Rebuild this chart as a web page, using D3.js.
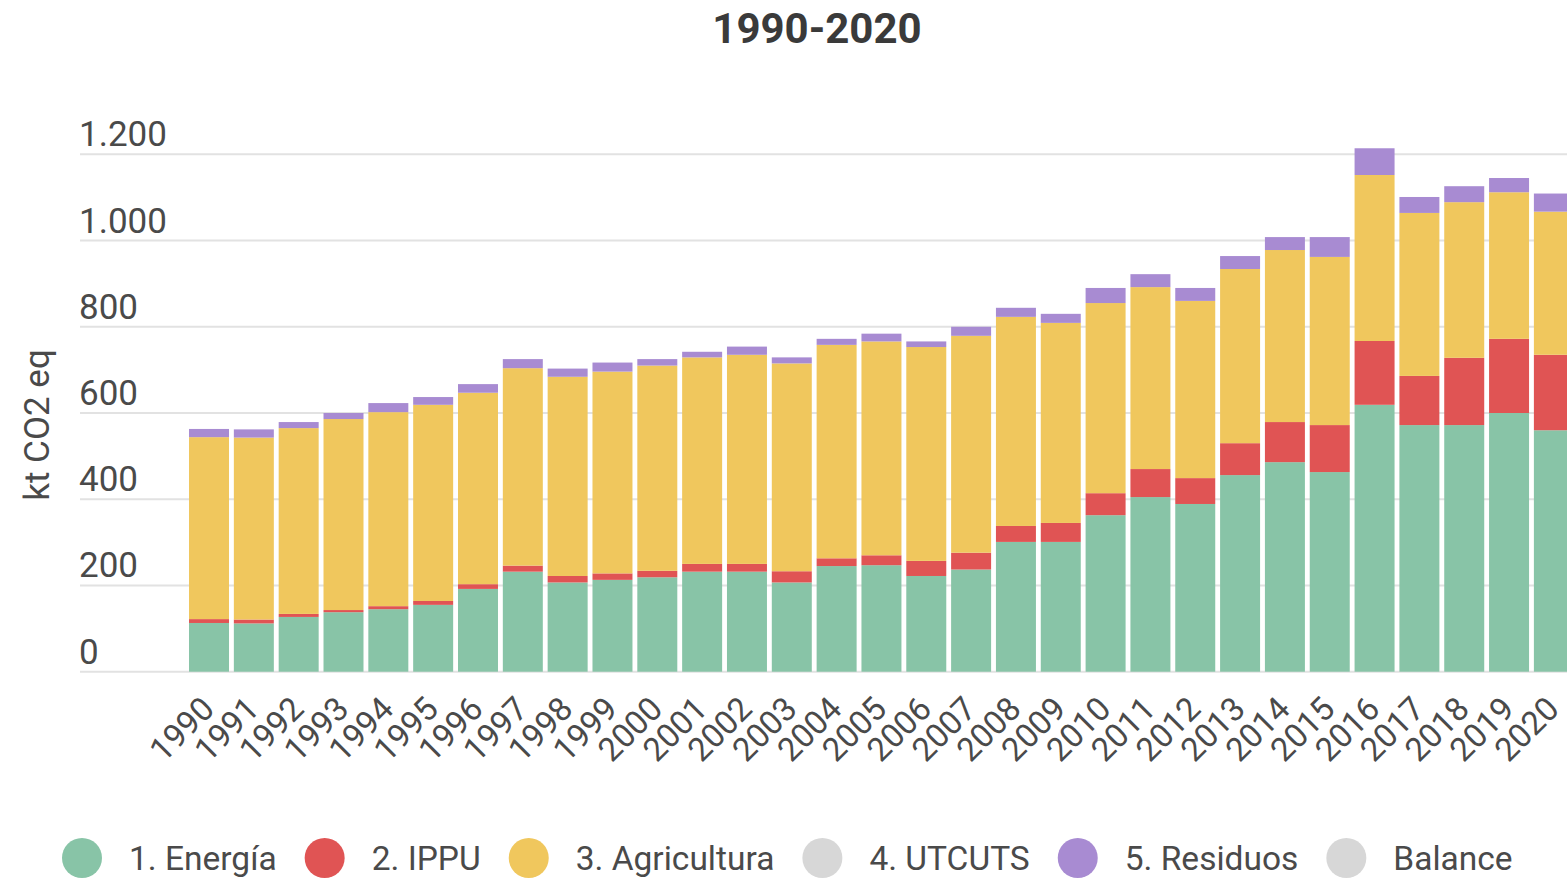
<!DOCTYPE html>
<html>
<head>
<meta charset="utf-8">
<script src="https://cdn.jsdelivr.net/npm/d3@7"></script>
<style>
  html, body { margin: 0; padding: 0; background: #ffffff; }
  svg { display: block; font-family: Roboto, "Noto Sans", sans-serif; }
</style>
</head>
<body>
<svg id="chart" width="1567" height="880"></svg>
<script>
const years = ["1990","1991","1992","1993","1994","1995","1996","1997","1998","1999","2000",
  "2001","2002","2003","2004","2005","2006","2007","2008","2009","2010",
  "2011","2012","2013","2014","2015","2016","2017","2018","2019","2020"];

const energia     = [113,112,127,138,145,155,192,232,207,213,219,232,232,207,245,247,222,237,301,301,363,405,389,456,486,463,619,572,572,600,560];
const ippu        = [9,9,7,5,7,9,11,14,15,15,15,18,18,26,18,23,35,39,37,44,51,65,60,74,93,109,148,114,156,172,175];
const agricultura = [422,422,431,443,450,455,444,458,462,468,476,479,485,482,495,496,496,503,485,464,441,422,411,404,399,390,385,378,361,340,332];
const residuos    = [19,19,14,14,21,18,20,21,19,21,15,13,19,14,14,18,13,21,21,21,35,30,30,30,30,46,62,37,37,33,42];

const yTicks = [0, 200, 400, 600, 800, 1000, 1200];
const title = "1990-2020";
const yTitle = "kt CO2 eq";

const seriesNames  = ["1. Energía", "2. IPPU", "3. Agricultura", "4. UTCUTS", "5. Residuos", "Balance"];
const seriesColors = ["#88c4a7", "#e05454", "#f0c75d", "#d7d7d7", "#a88bd2", "#d7d7d7"];

const svg = d3.select("#chart");

const table = years.map((yr, i) => ({
  year: yr,
  e: energia[i], i: ippu[i], a: agricultura[i], r: residuos[i]
}));
const keys = ["e", "i", "a", "r"];
const keyColor = { e: seriesColors[0], i: seriesColors[1], a: seriesColors[2], r: seriesColors[4] };

const x = d3.scaleBand().domain(years).range([186.6, 1576.3]).paddingInner(0.108).paddingOuter(0.054);
const y = d3.scaleLinear().domain([0, 1200]).range([671.7, 154.3]);

// title
svg.append("text").attr("x", 817).attr("y", 43).attr("text-anchor", "middle")
  .attr("font-size", 42).attr("font-weight", "bold").attr("fill", "#3a3a3a").text(title);

// gridlines & y labels
const yAxis = svg.append("g");
yAxis.selectAll("line").data(yTicks).join("line")
  .attr("x1", 80).attr("x2", 1567)
  .attr("y1", d => y(d)).attr("y2", d => y(d))
  .attr("stroke", "#e2e2e2").attr("stroke-width", 2);
const fmt = d => d3.format(",")(d).replace(/,/g, ".");
yAxis.selectAll("text").data(yTicks).join("text")
  .attr("x", 79).attr("y", d => y(d) - 8)
  .attr("font-size", 35).attr("fill", "#4a4a4a").text(fmt);

// y title
svg.append("text").attr("transform", "translate(49,425) rotate(-90)")
  .attr("text-anchor", "middle").attr("font-size", 35).attr("fill", "#4a4a4a").text(yTitle);

// stacked bars
const stack = d3.stack().keys(keys)(table);
svg.append("g").selectAll("g").data(stack).join("g")
  .attr("fill", d => keyColor[d.key])
  .selectAll("rect").data(d => d).join("rect")
  .attr("x", d => x(d.data.year))
  .attr("width", x.bandwidth())
  .attr("y", d => y(d[1]))
  .attr("height", d => y(d[0]) - y(d[1]));

// x labels
svg.append("g").selectAll("text").data(years).join("text")
  .attr("transform", d => `translate(${x(d) + x.bandwidth() / 2 + 7},711) rotate(-45)`)
  .attr("text-anchor", "end").attr("font-size", 33).attr("fill", "#4a4a4a").text(d => d);

// legend
const legend = svg.append("g");
let cx = 82;
seriesNames.forEach((name, i) => {
  legend.append("circle").attr("cx", cx).attr("cy", 858).attr("r", 20).attr("fill", seriesColors[i]);
  const t = legend.append("text").attr("x", cx + 47).attr("y", 870)
    .attr("font-size", 33.5).attr("fill", "#4a4a4a").text(name);
  const w = t.node().getComputedTextLength();
  cx = cx + 47 + w + 48;
});
</script>
</body>
</html>
